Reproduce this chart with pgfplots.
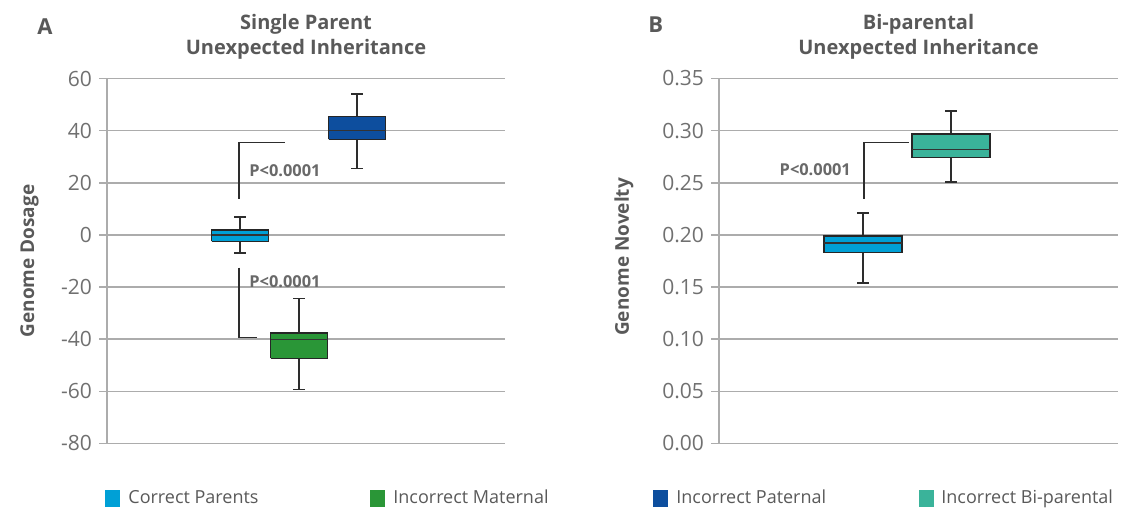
\documentclass[border=0pt]{standalone}
\usepackage{fontspec}
\setmainfont{Open Sans}
\usepackage{pgfplots}
\pgfplotsset{compat=1.18}
\definecolor{cpblue}{RGB}{0,160,214}
\definecolor{matgreen}{RGB}{42,150,55}
\definecolor{patblue}{RGB}{13,78,158}
\definecolor{biteal}{RGB}{58,179,154}
\definecolor{gridgray}{RGB}{172,172,172}
\definecolor{ticktext}{RGB}{112,112,112}
\definecolor{titletext}{RGB}{89,89,89}
\definecolor{ptext}{RGB}{105,105,105}
\definecolor{whisk}{RGB}{45,45,45}
\tikzset{ann/.style={draw=whisk, line width=0.6pt}}
\pgfplotsset{
  panel/.style={
    scale only axis, enlargelimits=false, clip=false,
    axis x line=none, axis y line*=left,
    axis line style={gridgray, line width=0.75pt},
    ymajorgrids, major grid style={gridgray, line width=0.75pt},
    tick align=outside, major tick length=4pt,
    ytick style={gridgray, line width=0.75pt},
    yticklabel style={font=\fontsize{10.5}{12}\selectfont, text=ticktext},
    /pgf/number format/assume math mode=true,
  },
  wh/.style={draw=whisk, line width=0.8pt, mark=none},
  bx/.style={fill=#1, draw=black!85, line width=0.7pt, mark=none},
  md/.style={draw=black!80, line width=0.7pt, mark=none},
}
\begin{document}
\begin{tikzpicture}
\path[use as bounding box] (0pt,0pt) rectangle (560.5pt,256pt);
% ---------- Panel A ----------
\begin{axis}[panel, at={(53.5pt,34.25pt)}, anchor=south west,
  width=199pt, height=182.5pt, xmin=0, xmax=3.98, ymin=-80, ymax=60,
  ytick={-80,-60,-40,-20,0,20,40,60}]
% Correct Parents: lw -6.9, q1 -2.5, med 0, q3 1.9, uw 6.9
\addplot[wh] coordinates {(1.33,-2.5) (1.33,-6.9)};
\addplot[wh] coordinates {(1.27,-6.9) (1.39,-6.9)};
\addplot[wh] coordinates {(1.33,1.9) (1.33,6.9)};
\addplot[wh] coordinates {(1.27,6.9) (1.39,6.9)};
\addplot[bx=cpblue] coordinates {(1.045,-2.5) (1.615,-2.5) (1.615,1.9) (1.045,1.9) (1.045,-2.5)};
\addplot[md] coordinates {(1.045,0) (1.615,0)};
% Incorrect Maternal: -59.3, -47.3, -40.2, -37.6, -24.4
\addplot[wh] coordinates {(1.92,-47.3) (1.92,-59.3)};
\addplot[wh] coordinates {(1.86,-59.3) (1.98,-59.3)};
\addplot[wh] coordinates {(1.92,-37.6) (1.92,-24.4)};
\addplot[wh] coordinates {(1.86,-24.4) (1.98,-24.4)};
\addplot[bx=matgreen] coordinates {(1.635,-47.3) (2.205,-47.3) (2.205,-37.6) (1.635,-37.6) (1.635,-47.3)};
\addplot[md] coordinates {(1.635,-40.2) (2.205,-40.2)};
% Incorrect Paternal: 25.5, 36.6, 40.1, 45.5, 54.0
\addplot[wh] coordinates {(2.50,36.6) (2.50,25.5)};
\addplot[wh] coordinates {(2.44,25.5) (2.56,25.5)};
\addplot[wh] coordinates {(2.50,45.5) (2.50,54.0)};
\addplot[wh] coordinates {(2.44,54.0) (2.56,54.0)};
\addplot[bx=patblue] coordinates {(2.215,36.6) (2.785,36.6) (2.785,45.5) (2.215,45.5) (2.215,36.6)};
\addplot[md] coordinates {(2.215,40.1) (2.785,40.1)};
\draw[ann] (axis cs:1.32,13.9) -- (axis cs:1.32,35.5) -- (axis cs:1.78,35.5);
\draw[ann] (axis cs:1.32,-12.5) -- (axis cs:1.32,-39.3) -- (axis cs:1.497,-39.3);
\node[anchor=west, inner sep=0pt, text=ptext, font=\fontsize{8.2}{10}\selectfont\bfseries] at (axis cs:1.42,24.8) {P<0.0001};
\node[anchor=west, inner sep=0pt, text=ptext, font=\fontsize{8.2}{10}\selectfont\bfseries] at (axis cs:1.42,-18.1) {P<0.0001};
\end{axis}
% ---------- Panel B ----------
\begin{axis}[panel, at={(359.5pt,34.25pt)}, anchor=south west,
  width=199.5pt, height=182.5pt, xmin=0, xmax=3.99, ymin=0, ymax=0.35,
  ytick={0,0.05,0.10,0.15,0.20,0.25,0.30,0.35},
  yticklabel style={/pgf/number format/.cd, fixed, fixed zerofill, precision=2}]
% Correct Parents: 0.1540, 0.1831, 0.1921, 0.1991, 0.2211
\addplot[wh] coordinates {(1.44,0.1831) (1.44,0.1540)};
\addplot[wh] coordinates {(1.38,0.1540) (1.50,0.1540)};
\addplot[wh] coordinates {(1.44,0.1991) (1.44,0.2211)};
\addplot[wh] coordinates {(1.38,0.2211) (1.50,0.2211)};
\addplot[bx=cpblue] coordinates {(1.05,0.1831) (1.83,0.1831) (1.83,0.1991) (1.05,0.1991) (1.05,0.1831)};
\addplot[md] coordinates {(1.05,0.1921) (1.83,0.1921)};
% Incorrect Bi-parental: 0.2508, 0.2742, 0.2819, 0.2966, 0.3189
\addplot[wh] coordinates {(2.32,0.2742) (2.32,0.2508)};
\addplot[wh] coordinates {(2.26,0.2508) (2.38,0.2508)};
\addplot[wh] coordinates {(2.32,0.2966) (2.32,0.3189)};
\addplot[wh] coordinates {(2.26,0.3189) (2.38,0.3189)};
\addplot[bx=biteal] coordinates {(1.93,0.2742) (2.71,0.2742) (2.71,0.2966) (1.93,0.2966) (1.93,0.2742)};
\addplot[md] coordinates {(1.93,0.2819) (2.71,0.2819)};
\draw[ann] (axis cs:1.45,0.2349) -- (axis cs:1.45,0.2889) -- (axis cs:1.903,0.2889);
\node[anchor=west, inner sep=0pt, text=ptext, font=\fontsize{8.2}{10}\selectfont\bfseries] at (axis cs:0.603,0.2627) {P<0.0001};
\end{axis}
% ---------- Titles ----------
\begin{scope}[every node/.style={text=titletext, inner sep=0pt}]
\node[anchor=base west, font=\fontsize{11}{13}\selectfont\bfseries] at (18.5pt,238.5pt) {A};
\node[anchor=base west, font=\fontsize{11}{13}\selectfont\bfseries] at (324pt,239.5pt) {B};
\node[anchor=base, font=\fontsize{10}{12}\selectfont\bfseries] at (153pt,241pt) {Single Parent};
\node[anchor=base, font=\fontsize{10}{12}\selectfont\bfseries] at (153pt,228.5pt) {Unexpected Inheritance};
\node[anchor=base, font=\fontsize{10}{12}\selectfont\bfseries] at (459.25pt,241pt) {Bi-parental};
\node[anchor=base, font=\fontsize{10}{12}\selectfont\bfseries] at (459.25pt,228.5pt) {Unexpected Inheritance};
\node[rotate=90, font=\fontsize{9.5}{11}\selectfont\bfseries] at (14.75pt,125.5pt) {Genome Dosage};
\node[rotate=90, font=\fontsize{9.5}{11}\selectfont\bfseries] at (312pt,127.5pt) {Genome Novelty};
% ---------- Legend ----------
\fill[cpblue] (52.5pt,2.5pt) rectangle (60pt,11pt);
\node[anchor=base west, font=\fontsize{9}{10}\selectfont] at (64pt,4pt) {Correct Parents};
\fill[matgreen] (185pt,2.5pt) rectangle (192.5pt,11pt);
\node[anchor=base west, font=\fontsize{9}{10}\selectfont] at (196.5pt,4pt) {Incorrect Maternal};
\fill[patblue] (326.5pt,2.5pt) rectangle (334pt,11pt);
\node[anchor=base west, font=\fontsize{9}{10}\selectfont] at (338pt,4pt) {Incorrect Paternal};
\fill[biteal] (459.5pt,2.5pt) rectangle (467pt,11pt);
\node[anchor=base west, font=\fontsize{9}{10}\selectfont] at (470.5pt,4pt) {Incorrect Bi-parental};
\end{scope}
\end{tikzpicture}
\end{document}
